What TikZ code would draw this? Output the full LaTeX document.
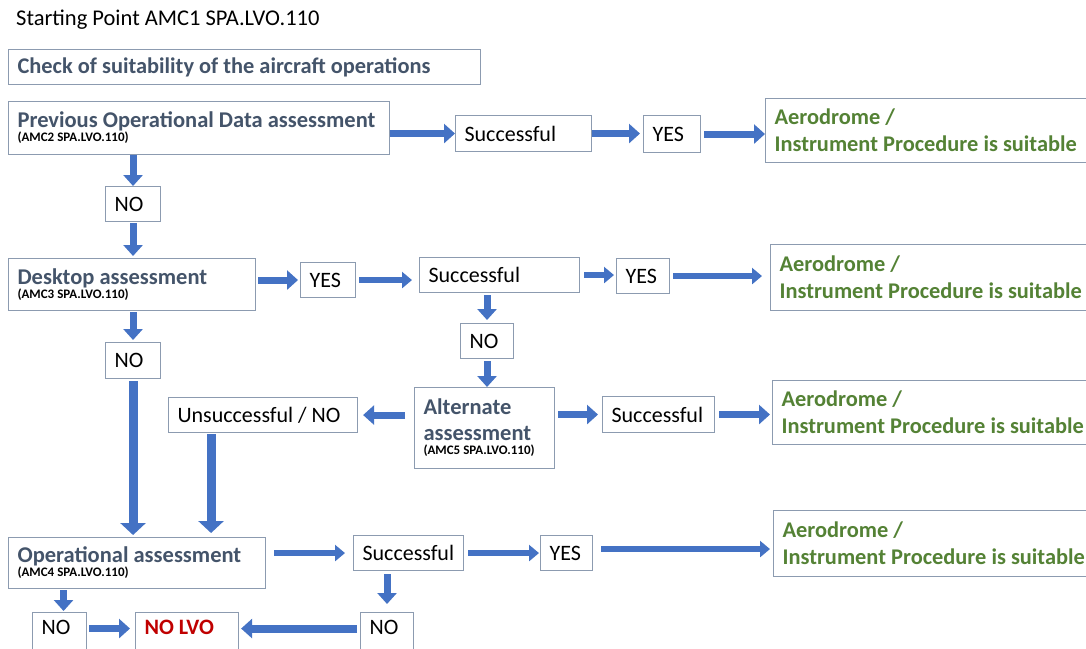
\documentclass[tikz,border=0pt]{standalone}
\usepackage{fontspec}
\setmainfont{Carlito}
\usetikzlibrary{arrows.meta,calc}
\definecolor{arblue}{HTML}{4472C4}
\definecolor{boxcol}{HTML}{8C9BB0}
\definecolor{slate}{HTML}{44546A}
\definecolor{okgreen}{HTML}{548235}
\definecolor{nored}{HTML}{C00000}
\tikzset{
  bx/.style={draw=boxcol, line width=1.1pt, fill=white, anchor=north west, align=left, inner xsep=9pt, inner ysep=0pt, font=\fontsize{22}{26}\selectfont, execute at begin node={\spaceskip=0pt\relax\xspaceskip=0pt\relax}},
  ar/.style={draw=arblue, line width=7pt, -{Triangle[length=11pt,width=19pt]}},
  arthin/.style={draw=arblue, line width=5.5pt, -{Triangle[length=10pt,width=16pt]}},
  arbig/.style={draw=arblue, line width=9pt, -{Triangle[length=12pt,width=25pt]}},
  gr/.style={font=\fontsize{22.4}{27}\selectfont\bfseries, text=okgreen},
}
\newcommand{\hdtext}[1]{{\fontsize{22.5}{27}\selectfont\bfseries\color{slate}#1}}
\newcommand{\subref}[1]{\\[-12pt]{\fontsize{13}{13}\selectfont\bfseries #1}}
\begin{document}
\begin{tikzpicture}[x=1pt,y=-1pt]
\useasboundingbox (0,0) rectangle (1086,648);
\fill[white] (0,0) rectangle (1086,648);

\node[anchor=west, font=\fontsize{22.5}{26}\selectfont, inner sep=0] (title) at (16,20) {Starting Point AMC1 SPA.LVO.110};

\node[bx, text width=454pt, minimum height=35pt, font=\fontsize{22.4}{26}\selectfont\bfseries, text=slate] (check) at (8,49) {Check of suitability of the aircraft operations};

% row 1
\node[bx, text width=363pt, minimum height=53pt] (prev) at (8,101) {\hdtext{Previous Operational Data assessment}\subref{(AMC2 SPA.LVO.110)}};
\node[bx, text width=118pt, minimum height=36pt] (s1) at (455,115) {Successful};
\node[bx, text width=39pt, minimum height=37pt] (y1) at (643,115) {YES};
\node[bx, gr, text width=330pt, minimum height=64pt] (a1) at (765,98) {Aerodrome /\\Instrument Procedure is suitable};

\node[bx, text width=37pt, minimum height=35pt] (n1) at (105,186) {NO};

% row 2
\node[bx, text width=229pt, minimum height=52pt] (desk) at (8,258) {\hdtext{Desktop assessment}\subref{(AMC3 SPA.LVO.110)}};
\node[bx, text width=37pt, minimum height=35pt] (y2) at (300,262) {YES};
\node[bx, text width=142pt, minimum height=35pt] (s2) at (419,257) {Successful};
\node[bx, text width=35pt, minimum height=35pt] (y3) at (616,258) {YES};
\node[bx, gr, text width=330pt, minimum height=66pt] (a2) at (770,244) {Aerodrome /\\Instrument Procedure is suitable};

\node[bx, text width=37pt, minimum height=36pt] (n2) at (105,342) {NO};
\node[bx, text width=35pt, minimum height=35pt] (n3) at (460,323) {NO};

% row 3
\node[bx, text width=122pt, minimum height=81pt] (alt) at (414,387) {\hdtext{Alternate\\assessment}\subref{(AMC5 SPA.LVO.110)}};
\node[bx, text width=171pt, minimum height=35pt] (uns) at (168,397) {Unsuccessful / NO};
\node[bx, text width=94pt, minimum height=36pt] (s3) at (602,396) {Successful};
\node[bx, gr, text width=330pt, minimum height=64pt] (a3) at (772,380) {Aerodrome /\\Instrument Procedure is suitable};

% row 4
\node[bx, text width=239pt, minimum height=51pt] (op) at (8,537) {\hdtext{Operational assessment}\subref{(AMC4 SPA.LVO.110)}};
\node[bx, text width=92pt, minimum height=35pt] (s4) at (353,535) {Successful};
\node[bx, text width=34pt, minimum height=35pt] (y4) at (540,535) {YES};
\node[bx, gr, text width=330pt, minimum height=66pt] (a4) at (773,510) {Aerodrome /\\Instrument Procedure is suitable};

% bottom row (cut by the lower edge)
\node[bx, text width=36pt, minimum height=44pt, text depth=14pt] (n4) at (32,612) {NO};
\node[bx, text width=85pt, minimum height=44pt, text depth=14pt, font=\fontsize{22}{26}\selectfont\bfseries, text=nored] (nolvo) at (135,612) {NO LVO};
\node[bx, text width=35pt, minimum height=44pt, text depth=14pt] (n5) at (360,612) {NO};

% connectors
\draw[ar] (prev.east |- s1.west) -- (s1.west);
\draw[ar, shorten >=3pt] (s1.east) -- (s1.east -| y1.west);
\draw[ar, shorten <=3pt] (y1.east) -- (y1.east -| a1.west);
\draw[ar] (n1.north |- prev.south) -- (n1.north);
\draw[ar, shorten <=1pt, shorten >=2pt] (n1.south) -- (n1.south |- desk.north);

\draw[ar, shorten <=2pt, shorten >=2pt] (desk.east |- y2.west) -- (y2.west);
\draw[arthin, shorten <=3pt, shorten >=7pt] (y2.east) -- (y2.east -| s2.west);
\draw[arthin, shorten <=4pt, shorten >=2pt] (s2.east) -- (s2.east -| y3.west);
\draw[arthin, shorten <=3pt, shorten >=8pt] (y3.east) -- (y3.east -| a2.west);
\draw[ar, shorten <=1pt, shorten >=2pt] (n2.north |- desk.south) -- (n2.north);
\draw[ar, shorten <=2pt, shorten >=3pt] (n3.north |- s2.south) -- (n3.north);
\draw[ar, shorten <=2pt, shorten >=0pt] (n3.south) -- (n3.south |- alt.north);

\draw[arbig, shorten <=2pt, shorten >=2pt] (n2.south) -- (n2.south |- op.north);
\draw[ar, shorten <=9pt, shorten >=5pt] (alt.west |- uns.east) -- (uns.east);
\draw[arbig, shorten <=1pt, shorten >=4pt] ([xshift=-52pt]uns.south) -- ([xshift=-52pt]uns.south |- op.north);
\draw[ar, shorten <=3pt, shorten >=4pt] (alt.east |- s3.west) -- (s3.west);
\draw[ar, shorten <=4pt, shorten >=2pt] (s3.east) -- (s3.east -| a3.west);

\draw[arthin, shorten <=8pt, shorten >=8pt] (op.east |- s4.west) -- (s4.west);
\draw[arthin, shorten <=4pt, shorten >=1pt] (s4.east) -- (s4.east -| y4.west);
\draw[arthin, shorten <=8pt, shorten >=3pt] ([yshift=4pt]y4.east) -- ([yshift=4pt]y4.east -| a4.west);
\draw[ar, shorten <=1pt, shorten >=1pt] ([xshift=4pt]n4.north |- op.south) -- ([xshift=4pt]n4.north);
\draw[ar, shorten <=2pt, shorten >=5pt] ([yshift=6pt]n4.east) -- ([yshift=6pt]n4.east -| nolvo.west);
\draw[ar, line width=8pt, shorten <=3pt, shorten >=2pt] ([yshift=6pt]n5.west) -- ([yshift=6pt]n5.west -| nolvo.east);
\draw[ar, shorten <=3pt, shorten >=8pt] (n5.north |- s4.south) -- (n5.north);
\end{tikzpicture}
\end{document}
